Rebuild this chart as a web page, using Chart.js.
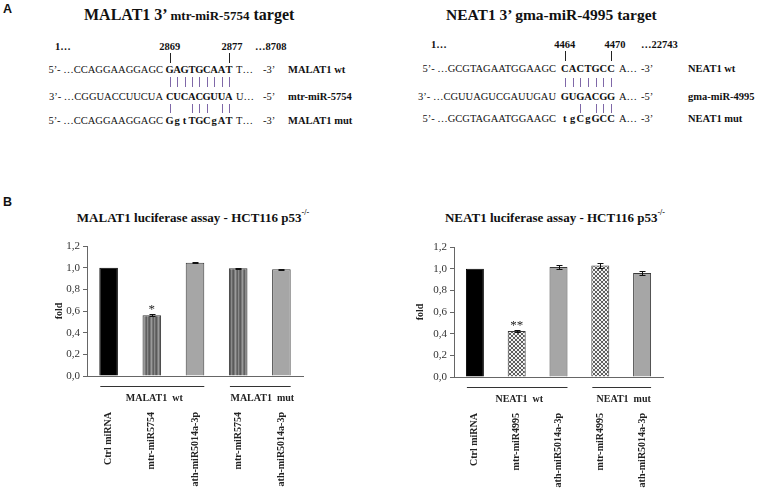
<!DOCTYPE html>
<html>
<head>
<meta charset="utf-8">
<script src="https://cdn.jsdelivr.net/npm/chart.js@4.4.1/dist/chart.umd.min.js"></script>
<style>
html,body{margin:0;padding:0;background:#fff;}
body{position:relative;width:758px;height:488px;overflow:hidden;font-family:"Liberation Serif","Times New Roman",serif;color:#111;}
.t{position:absolute;line-height:14px;white-space:pre;font-size:10.5px;}
.b{font-weight:bold;}
.c{transform:translateX(-50%);}
.r{transform:translateX(-100%);}
.ln{position:absolute;width:1px;}
.panel{position:absolute;font-family:"Liberation Sans",Arial,sans-serif;font-weight:bold;font-size:12.5px;line-height:14px;}
.title{position:absolute;font-weight:bold;font-size:16px;line-height:20px;white-space:nowrap;}
.ctitle{position:absolute;width:320px;text-align:center;font-weight:bold;font-size:13px;line-height:16px;white-space:nowrap;}
.ctitle sup{font-size:8px;position:relative;top:-1px;vertical-align:top;line-height:8px;}
canvas{position:absolute;}
</style>
</head>
<body>
<div class="panel" style="left:3px;top:2px;">A</div>
<div class="panel" style="left:3px;top:195px;">B</div>
<div class="title" style="left:84px;top:5px;">MALAT1 3’ <span style="font-size:13px;">mtr-miR-5754</span> target</div>
<div class="title" style="left:446px;top:5px;font-size:15.5px;">NEAT1 3’ gma-miR-4995 target</div>
<div class="ctitle" style="left:33px;top:210px;">MALAT1 luciferase assay - HCT116 p53<sup>-/-</sup></div>
<div class="ctitle" style="left:395px;top:210px;">NEAT1 luciferase assay - HCT116 p53<sup>-/-</sup></div>
<canvas id="cL" width="379" height="258" style="left:0px;top:230px;"></canvas>
<canvas id="cR" width="379" height="258" style="left:379px;top:231px;"></canvas>
<script>
// ---------- data ----------
const categoriesL = ['Ctrl miRNA', 'mtr-miR5754', 'ath-miR5014a-3p', 'mtr-miR5754', 'ath-miR5014a-3p'];
const valuesL = [1.0, 0.56, 1.045, 0.995, 0.985];
const errorsL = [0, 0.008, 0.004, 0.004, 0.002];
const starsL = ['', '*', '', '', ''];
const groupLabelsL = ['MALAT1  wt', 'MALAT1  mut'];
const groupFromL = [0, 3];
const groupToL = [2, 4];

const categoriesR = ['Ctrl miRNA', 'mtr-miR4995', 'ath-miR5014a-3p', 'mtr-miR4995', 'ath-miR5014a-3p'];
const valuesR = [1.0, 0.425, 1.015, 1.03, 0.96];
const errorsR = [0, 0.008, 0.015, 0.025, 0.018];
const starsR = ['', '**', '', '', ''];
const groupLabelsR = ['NEAT1  wt', 'NEAT1  mut'];
const groupFromR = [0, 3];
const groupToR = [2, 4];

const yMin = 0, yMax = 1.2, yStep = 0.2;

// ---------- panel A text ----------
function put(x, y, txt, cls) {
  const d = document.createElement('div');
  d.className = 't ' + (cls || '');
  d.style.left = x + 'px';
  d.style.top = (y - 7) + 'px';
  d.textContent = txt;
  document.body.appendChild(d);
}
function vline(x, y0, y1, color) {
  const d = document.createElement('div');
  d.className = 'ln';
  d.style.left = Math.round(x) + 'px';
  d.style.top = y0 + 'px';
  d.style.height = (y1 - y0) + 'px';
  d.style.background = color;
  document.body.appendChild(d);
}
function colsText(x0, step, str, y) {
  for (let i = 0; i < str.length; i++) put(x0 + step * i + step / 2, y, str[i], 'b c');
}
function seqBlock(cfg) {
  const cx = i => cfg.x0 + cfg.step * i + cfg.step / 2;
  put(cfg.n1x, cfg.numY, '1…', 'b');
  put(cx(0), cfg.numY, cfg.nA, 'b c');
  put(cx(cfg.cols - 1) + cfg.nBoff, cfg.numY, cfg.nB, 'b c');
  put(cfg.endX, cfg.numY, cfg.nEnd, 'b');
  vline(cx(0), cfg.numY + 6, cfg.numY + 16, '#222');
  vline(cx(cfg.cols - 1), cfg.numY + 6, cfg.numY + 16, '#222');
  cfg.rows.forEach((r, k) => {
    put(cfg.preX, r.y, r.pre, 'r');
    colsText(cfg.x0, cfg.step, r.mid, r.y);
    put(cfg.sufX, r.y, r.suf);
    put(cfg.endSX, r.y, r.end);
    put(cfg.labX, r.y, r.lab, 'b');
  });
  cfg.pipes.forEach(p => {
    p.cols.forEach(i => vline(cx(i), p.y0, p.y1, '#7f68a8'));
  });
}
seqBlock({
  x0: 166, step: 7.4, cols: 9, numY: 47, n1x: 55, nA: '2869', nB: '2877', nBoff: 3, nEnd: '…8708', endX: 255,
  preX: 163, sufX: 236, endSX: 263, labX: 288,
  rows: [
    {y: 70, pre: '5’- …CCAGGAAGGAGC', mid: 'GAGTGCAAT', suf: 'T…', end: '-3’', lab: 'MALAT1 wt'},
    {y: 97, pre: '3’- …CGGUACCUUCUA', mid: 'CUCACGUUA', suf: 'U…', end: '-5’', lab: 'mtr-miR-5754'},
    {y: 121, pre: '5’- …CCAGGAAGGAGC', mid: 'GgtTGCgAT', suf: 'T…', end: '-3’', lab: 'MALAT1 mut'}
  ],
  pipes: [
    {y0: 77, y1: 87, cols: [0,1,2,3,4,5,6,7,8]},
    {y0: 104, y1: 113, cols: [0,3,4,5,7,8]}
  ]
});
seqBlock({
  x0: 561, step: 7.7, cols: 7, numY: 45, n1x: 431, nA: '4464', nB: '4470', nBoff: 4, nEnd: '…22743', endX: 641,
  preX: 556, sufX: 619, endSX: 641, labX: 688,
  rows: [
    {y: 69, pre: '5’- …GCGTAGAATGGAAGC', mid: 'CACTGCC', suf: 'A…', end: '-3’', lab: 'NEAT1 wt'},
    {y: 97, pre: '3’- …CGUUAGUCGAUUGAU', mid: 'GUGACGG', suf: 'A…', end: '-5’', lab: 'gma-miR-4995'},
    {y: 119, pre: '5’- …GCGTAGAATGGAAGC', mid: 'tgCgGCC', suf: 'A…', end: '-3’', lab: 'NEAT1 mut'}
  ],
  pipes: [
    {y0: 78, y1: 87, cols: [0,1,2,3,4,5,6]},
    {y0: 104, y1: 113, cols: [2,4,5,6]}
  ]
});

// ---------- patterns ----------
function stripePattern() {
  const c = document.createElement('canvas'); c.width = 7; c.height = 1;
  const g = c.getContext('2d');
  ['#8a8a8a','#6a6a6a','#5a5a5a','#7c7c7c','#9a9a9a','#767676','#606060'].forEach((col, i) => { g.fillStyle = col; g.fillRect(i, 0, 1, 1); });
  return g.createPattern(c, 'repeat');
}
function checkerPattern() {
  const c = document.createElement('canvas'); c.width = 4; c.height = 4;
  const g = c.getContext('2d');
  g.fillStyle = '#f2f2f2'; g.fillRect(0, 0, 4, 4);
  g.fillStyle = '#5e5e5e'; g.fillRect(0, 0, 2, 2); g.fillRect(2, 2, 2, 2);
  return g.createPattern(c, 'repeat');
}

const SERIF = '"Liberation Serif","Times New Roman",serif';

const annot = {
  id: 'annot',
  afterDatasetsDraw(chart, args, opts) {
    const ctx = chart.ctx, y = chart.scales.y;
    const meta = chart.getDatasetMeta(0);
    const vals = chart.data.datasets[0].data;
    ctx.save();
    ctx.strokeStyle = '#111'; ctx.lineWidth = 1; ctx.fillStyle = '#222';
    meta.data.forEach((bar, i) => {
      const v = vals[i], e = opts.errors[i];
      if (e > 0) {
        const yt = Math.round(y.getPixelForValue(v + e)) + 0.5, yb = Math.round(y.getPixelForValue(v - e)) + 0.5;
        const xc = Math.round(bar.x) + 0.5;
        ctx.beginPath();
        ctx.moveTo(xc, yt); ctx.lineTo(xc, yb);
        ctx.moveTo(xc - 3, yt); ctx.lineTo(xc + 3, yt);
        ctx.moveTo(xc - 3, yb); ctx.lineTo(xc + 3, yb);
        ctx.stroke();
      }
      if (opts.stars[i]) {
        ctx.font = '13px ' + SERIF;
        ctx.textAlign = 'center'; ctx.textBaseline = 'alphabetic';
        ctx.fillText(opts.stars[i], bar.x, y.getPixelForValue(v + e) - 1);
      }
    });
    const base = chart.chartArea.bottom;
    ctx.strokeStyle = '#333';
    opts.groupLabels.forEach((lab, k) => {
      const b0 = meta.data[opts.from[k]], b1 = meta.data[opts.to[k]];
      const x0 = b0.x - b0.width / 2 + 1, x1 = b1.x + b1.width / 2;
      ctx.beginPath();
      ctx.moveTo(x0, base + 10.5); ctx.lineTo(x1, base + 10.5);
      ctx.stroke();
      ctx.font = 'bold 10px ' + SERIF;
      ctx.textAlign = 'center'; ctx.textBaseline = 'middle';
      ctx.fillStyle = '#222';
      ctx.fillText(lab, (x0 + x1) / 2 + 2, base + 22);
    });
    ctx.restore();
  }
};

function makeChart(id, cats, vals, errs, stars, gl, gf, gt, fills, rightPad, yWidth, titlePad) {
  return new Chart(document.getElementById(id), {
    type: 'bar',
    data: {
      labels: cats,
      datasets: [{
        data: vals,
        backgroundColor: fills,
        borderColor: fills.map((f, i) => i === 0 ? '#000' : '#3a3a3a'),
        borderWidth: 1,
        borderSkipped: 'bottom',
        barPercentage: 0.43,
        categoryPercentage: 1.0
      }]
    },
    options: {
      responsive: false,
      animation: false,
      devicePixelRatio: 1,
      layout: { padding: { left: 0, right: rightPad, top: 16, bottom: 0 } },
      plugins: {
        legend: { display: false },
        tooltip: { enabled: false },
        annot: { errors: errs, stars: stars, groupLabels: gl, from: gf, to: gt }
      },
      scales: {
        y: {
          min: yMin, max: yMax,
          afterFit: s => { s.width = yWidth; },
          ticks: {
            stepSize: yStep,
            padding: 3,
            color: '#333',
            font: { family: SERIF, size: 11 },
            callback: v => Number(v).toFixed(1).replace('.', ',')
          },
          grid: { drawOnChartArea: false, drawTicks: true, tickLength: 4, color: '#666' },
          border: { color: '#666', width: 1 },
          title: { display: true, text: 'fold', color: '#222', font: { family: SERIF, size: 10, weight: 'bold' }, padding: { top: titlePad, bottom: 0 } }
        },
        x: {
          afterFit: s => { s.height = 112; },
          ticks: {
            minRotation: 90, maxRotation: 90, autoSkip: false,
            padding: 36,
            color: '#222',
            font: { family: SERIF, size: 10, weight: 'bold' }
          },
          grid: { display: false, drawTicks: false },
          border: { color: '#666', width: 1 }
        }
      }
    },
    plugins: [annot]
  });
}

const stripe = stripePattern();
const checker = checkerPattern();
makeChart('cL', categoriesL, valuesL, errorsL, starsL, groupLabelsL, groupFromL, groupToL,
  ['#000000', stripe, '#a6a6a6', stripe, '#a6a6a6'], 76, 87, 53);
makeChart('cR', categoriesR, valuesR, errorsR, starsR, groupLabelsR, groupFromR, groupToR,
  ['#000000', checker, '#a6a6a6', checker, '#a6a6a6'], 95, 75, 35);
</script>
</body>
</html>
